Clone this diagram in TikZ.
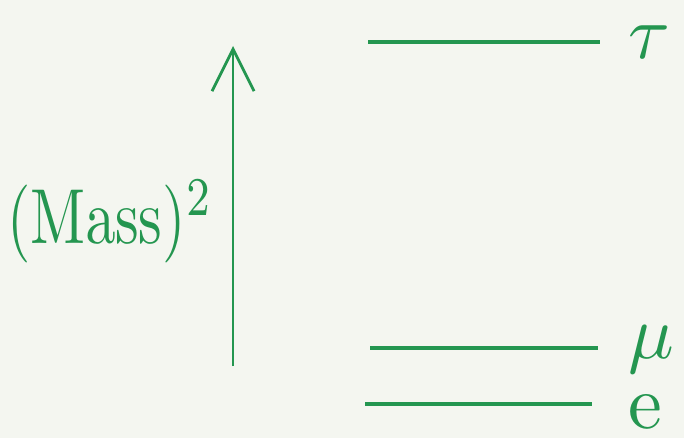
\documentclass[tikz,border=0pt]{standalone}
\usepackage{amsmath,amssymb}
\usepackage{graphicx}
\usepackage{xcolor}
\definecolor{lepGreen} {RGB}{ 36, 150,  80}
\definecolor{lepPaper} {RGB}{244, 246, 240}
\usepackage{tikz}
\usetikzlibrary{
  arrows.meta,
  positioning,
}
% hand-sized letters
\newcommand{\bigglyph}[1]{\scalebox{3.8}{#1}}

\begin{document}
\begin{tikzpicture}[
  x=0.5pt, y=-0.5pt,
  axis/.style  ={-{Straight Barb[length=21pt, width=21pt, line width=1.4pt]},
                 line width=1.4pt, color=lepGreen},
  level/.style ={line width=1.6pt, color=lepGreen},
  lvlbl/.style ={text=lepGreen, inner sep=0pt, anchor=west},
  axlbl/.style ={text=lepGreen, inner sep=0pt},
]
  % paper, also fixes the picture size
  \fill[lepPaper] (0,0) rectangle (684,438);

  % mass axis
  \coordinate (axLo) at (233,366);
  \coordinate (axHi) at (233, 46);
  \draw[axis] (axLo) -- (axHi);
  \node[axlbl] (mass) at (110,222) {\scalebox{3.0}[3.9]{$(\mathrm{Mass})^2$}};

  % lepton levels, ends of each line
  \coordinate (tauL) at (368, 42);  \coordinate (tauR) at (600, 42);
  \coordinate (muL)  at (370,348);  \coordinate (muR)  at (598,348);
  \coordinate (eL)   at (365,404);  \coordinate (eR)   at (592,404);

  \draw[level] (tauL) -- (tauR);
  \draw[level] (muL)  -- (muR);
  \draw[level] (eL)   -- (eR);

  \node[lvlbl, right=14pt of tauR] (tau) {\bigglyph{$\tau$}};
  \node[lvlbl, right=15pt of muR, yshift=-1pt] (mu) {\bigglyph{$\mu$}};
  \node[lvlbl, right=18pt of eR, yshift=-4pt] (e) {\bigglyph{e}};

\end{tikzpicture}
\end{document}
